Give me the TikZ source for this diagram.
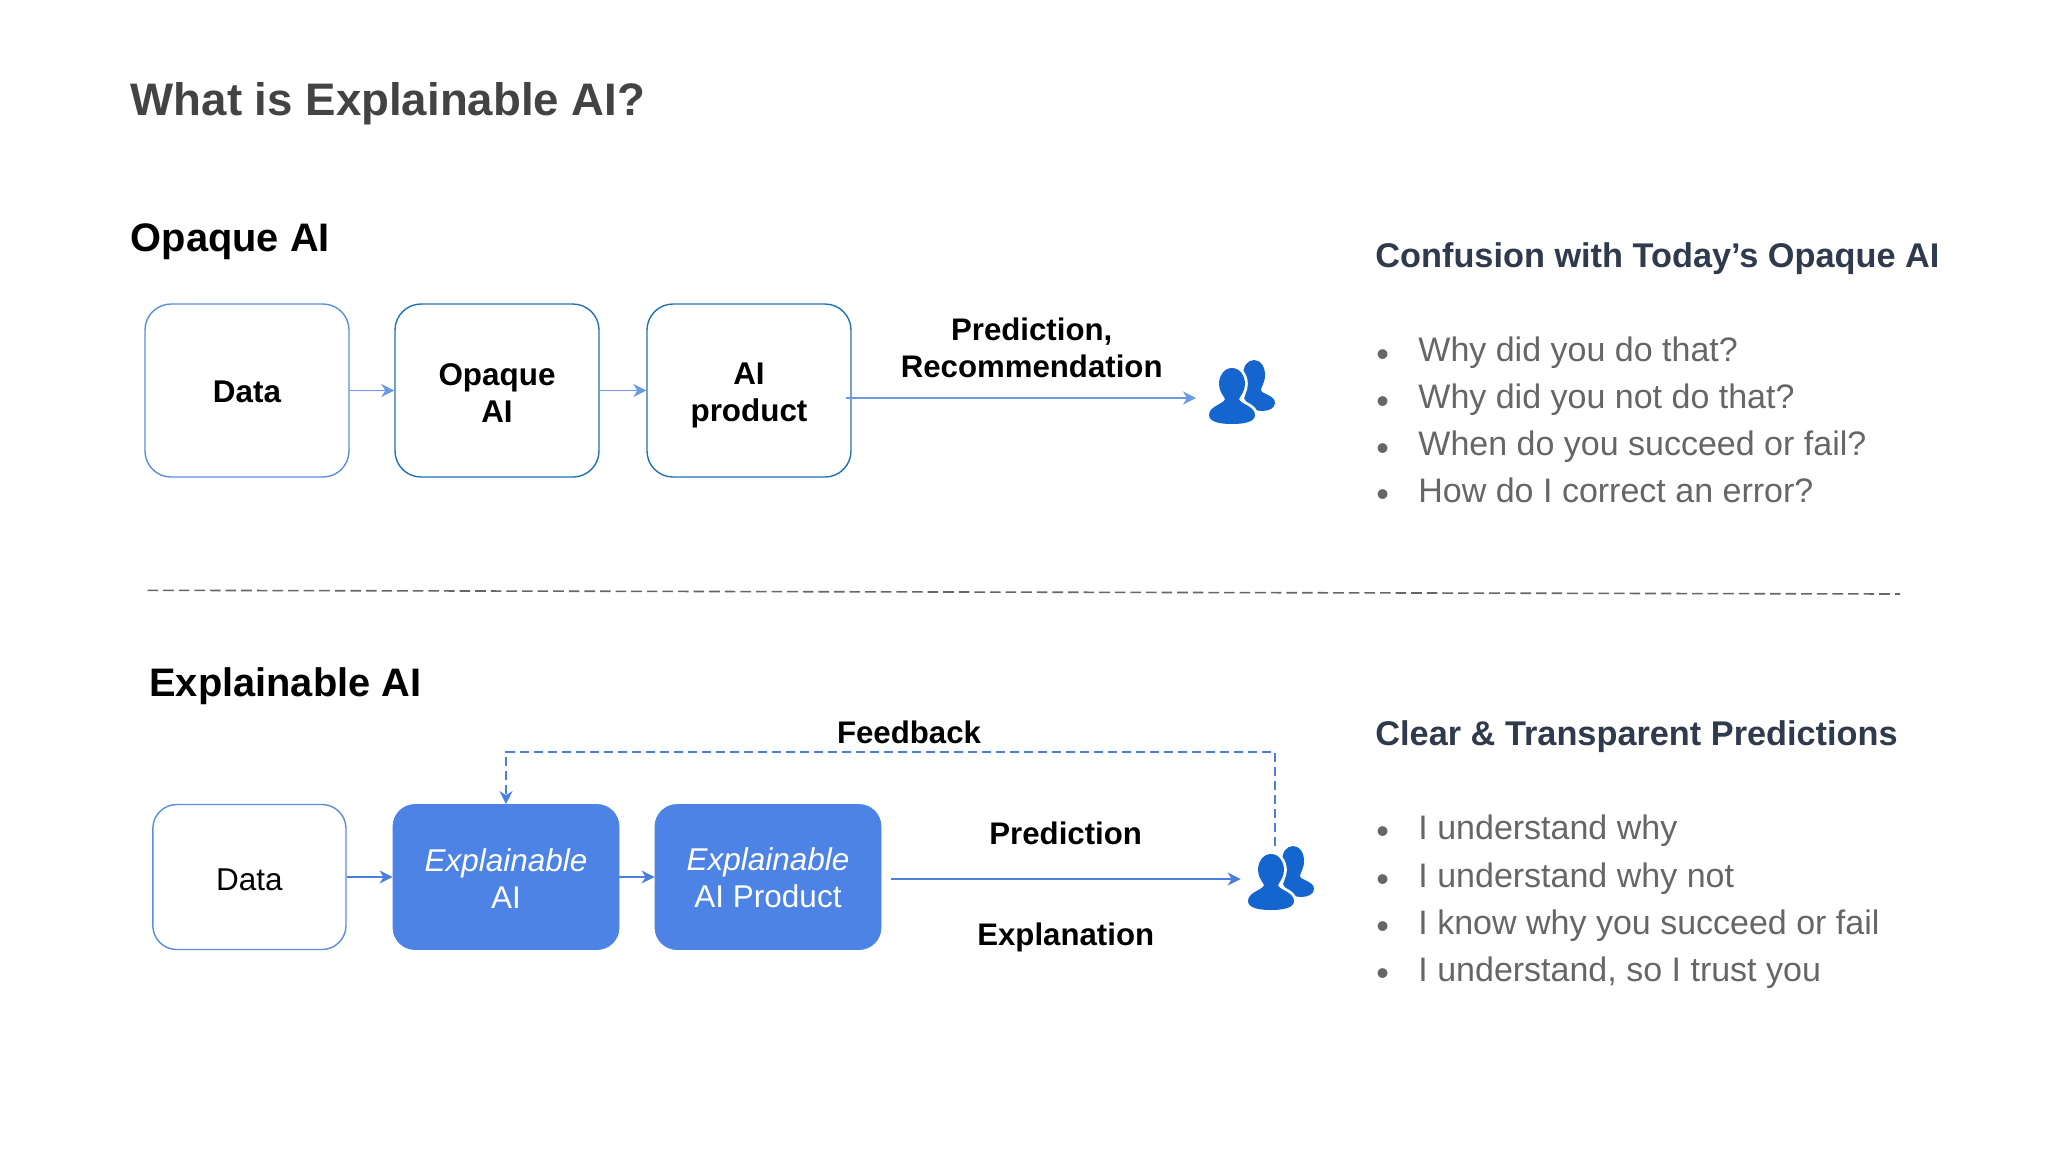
\documentclass[tikz,border=0pt]{standalone}
\usepackage{fontspec}
\setmainfont{Liberation Sans}
\usetikzlibrary{arrows.meta}

\definecolor{linkblue}{HTML}{6A9BE3}
\definecolor{outlineblue}{HTML}{5B8DDF}
\definecolor{tealblue}{HTML}{1F72B4}
\definecolor{fillblue}{HTML}{4C83E5}
\definecolor{darklink}{HTML}{4A80DC}
\definecolor{usersblue}{HTML}{1565CF}
\definecolor{headgrey}{HTML}{434343}
\definecolor{slate}{HTML}{2F3A4C}
\definecolor{bulletgrey}{HTML}{666666}

\tikzset{
    >={Stealth[length=6.5pt,width=6.5pt,inset=2pt]},
    box/.style={draw=outlineblue, rounded corners=13pt, line width=0.7pt, minimum width=102pt, minimum height=86.5pt, inner sep=0pt, align=center, font=\bfseries\fontsize{15.7}{18.5}\selectfont},
    flowlabel/.style={inner sep=0pt, align=center, font=\bfseries\fontsize{15.6}{18.5}\selectfont},
    fullbox/.style={draw=fillblue, fill=fillblue, text=white, rounded corners=11pt, minimum width=113pt, minimum height=72.5pt, inner sep=0pt, align=center, font=\fontsize{15.75}{18.5}\selectfont},
    sechead/.style={anchor=base west, inner sep=0pt, font=\bfseries\fontsize{19.9}{24}\selectfont},
    sidehead/.style={anchor=base west, inner sep=0pt, text=slate, font=\bfseries\fontsize{17.15}{20}\selectfont},
    sideline/.style={anchor=base west, inner sep=0pt, text height=13pt, text depth=4pt, text=bulletgrey, font=\fontsize{17}{20}\selectfont, label={[bulletmark]left:\textbullet}},
    bulletmark/.style={inner sep=0pt, text=bulletgrey, xshift=-14.3pt, yshift=-2.6pt, font=\fontsize{18}{20}\selectfont},
    usersbox/.style={minimum width=34pt, minimum height=32pt, inner sep=0pt},
    link/.style={->, draw=linkblue, line width=0.8pt},
    darkarrow/.style={->, draw=darklink, line width=0.9pt},
    pics/usersicon/.style={code={
        \fill[usersblue] (12,-32) .. controls (19,-32) and (23,-25) .. (23,-17) .. controls (23,-9) and (19,-5) .. (19,-2) .. controls (19,2) and (33,3) .. (33,11) .. controls (33,16) and (27,19) .. (20,19) .. controls (14,19) and (8,17) .. (2,6) .. controls (5,3) and (3,-9) .. (1,-17) .. controls (1,-25) and (5,-32) .. (12,-32) -- cycle;
        \path[fill=usersblue, preaction={draw=white, line width=2.8pt}] (-10,-24) .. controls (-18,-24) and (-23,-16) .. (-23,-8) .. controls (-23,-1) and (-19,3) .. (-17,7) .. controls (-18,12) and (-33,14) .. (-33,23) .. controls (-33,30) and (-22,32) .. (-10,32) .. controls (2,32) and (13,30) .. (13,23) .. controls (13,14) and (-2,12) .. (-3,7) .. controls (-1,3) and (3,-1) .. (3,-8) .. controls (3,-16) and (-2,-24) .. (-10,-24) -- cycle;
    }},
}

\begin{document}
\begin{tikzpicture}[x=0.5pt, y=-0.5pt]
    \useasboundingbox (0,0) rectangle (2048,1152);

    % headings
    \node[anchor=base west, inner sep=0pt, text=headgrey, font=\bfseries\fontsize{22.8}{26}\selectfont] (title) at (130.5,115) {What is Explainable AI?};
    \node[sechead] (opaquehead) at (130.5,251) {Opaque AI};
    \node[sechead] (xaihead) at (149,696) {Explainable AI};

    % nodes: data opaque product users
    \node[box] (data1) at (247,390.5) {\rule{0pt}{12.6pt}Data};
    \node[box, draw=tealblue] (opaque) at (497,390.5) {\rule{0pt}{13.7pt}Opaque\\AI};
    \node[box, draw=tealblue] (product) at (749,390.5) {\rule{0pt}{15.5pt}AI\\product};
    \node[usersbox] (users1) at (1242,392) {};
    \pic at (users1) {usersicon};
    \node[flowlabel] (predrec) at (1031.7,347.5) {Prediction,\\Recommendation};

    % edges: data-opaque, opaque-product, product-users
    \draw[link] (data1) -- (opaque);
    \draw[link] (opaque) -- (product);
    \coordinate (outstart) at (846,398);
    \coordinate (outend) at (1196,398);
    \draw[link] (outstart) -- (outend);

    % divider
    \coordinate (divleft) at (147.6,590.3);
    \coordinate (divright) at (1900,594);
    \draw[bulletgrey, line width=0.8pt, dash pattern=on 5.3pt off 2.5pt] (divleft) -- (divright);

    % nodes: data xai xproduct users
    \node[box, minimum width=96.6pt, minimum height=72.5pt, font=\fontsize{15.75}{18.5}\selectfont, rounded corners=12pt] (data2) at (249.4,877) {\rule{0pt}{13.9pt}Data};
    \node[fullbox] (xai) at (506,877) {\rule{0pt}{12.6pt}\textit{Explainable}\\AI};
    \node[fullbox] (xproduct) at (768,877) {\rule{0pt}{12.6pt}\textit{Explainable}\\AI Product};
    \node[usersbox] (users2) at (1281,878) {};
    \pic at (users2) {usersicon};
    \node[flowlabel] (feedback) at (909,732.7) {Feedback};
    \node[flowlabel] (prediction) at (1065.7,833) {Prediction};
    \node[flowlabel] (explanation) at (1065.7,937.5) {Explanation};

    % edges: data-xai, xai-xproduct, xproduct-users
    \draw[darkarrow] (data2) -- (xai);
    \draw[darkarrow] (xai) -- (xproduct);
    \coordinate (predstart) at (890.7,879);
    \coordinate (predend) at (1240.7,879);
    \draw[darkarrow] (predstart) -- (predend);

    % feedback edge
    \coordinate (fbstart) at (1274.7,846);
    \coordinate (fbtop) at (1274.7,752);
    \draw[darkarrow, dash pattern=on 4.5pt off 2.5pt] (fbstart) -- (fbtop) -| (xai.north);

    % side text: opaque
    \node[sidehead] (confusion) at (1375,267.7) {Confusion with Today’s Opaque AI};
    \node[sideline] (why1) at (1418,361.5) {Why did you do that?};
    \node[sideline] (why2) at (1418,408.5) {Why did you not do that?};
    \node[sideline] (why3) at (1418,455.5) {When do you succeed or fail?};
    \node[sideline] (why4) at (1418,502) {How do I correct an error?};

    % side text: explainable
    \node[sidehead] (clear) at (1375,745) {Clear \& Transparent Predictions};
    \node[sideline] (get1) at (1418,839) {I understand why};
    \node[sideline] (get2) at (1418,887) {I understand why not};
    \node[sideline] (get3) at (1418,934) {I know why you succeed or fail};
    \node[sideline] (get4) at (1418,981) {I understand, so I trust you};
\end{tikzpicture}
\end{document}
